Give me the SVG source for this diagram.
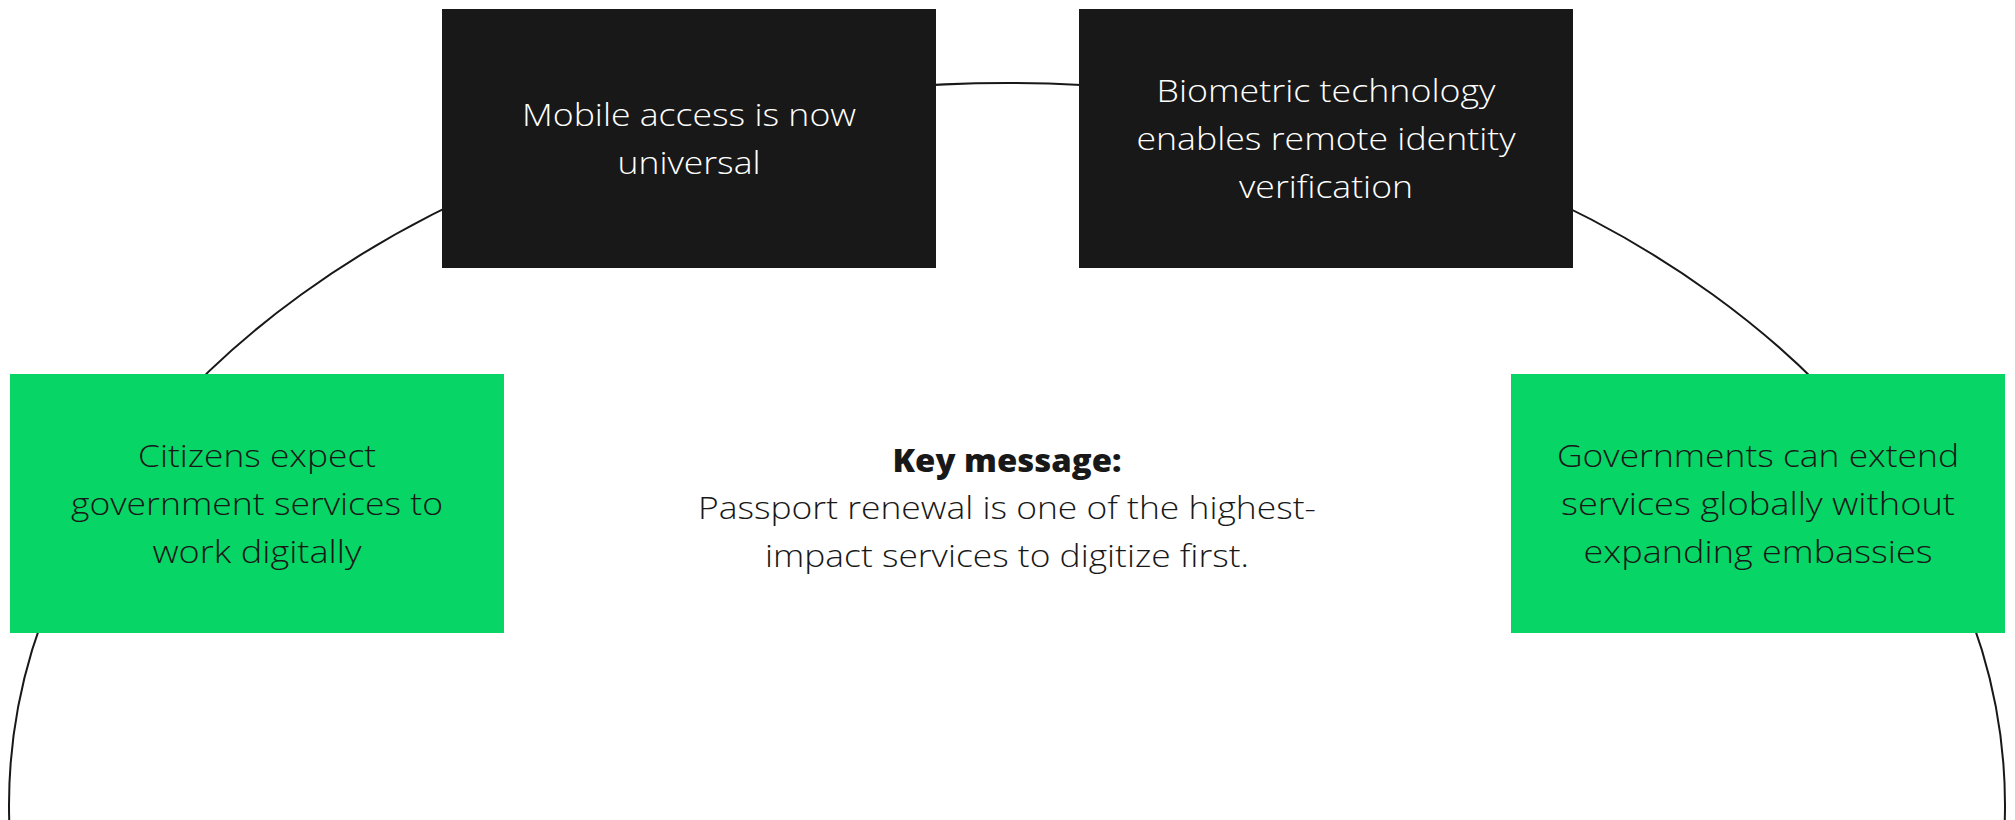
<svg xmlns="http://www.w3.org/2000/svg" width="2015" height="820" viewBox="0 0 2015 820">
<style>
.dark{fill:#181818}
.green{fill:#07D565}
.t{font-family:"Open Sans","Noto Sans","Liberation Sans",sans-serif;font-size:32px;font-weight:300;text-anchor:middle}
.tw{fill:#ffffff}
.tk{fill:#181818}
.b{font-weight:800}
.ring{fill:none;stroke:#181818;stroke-width:2}
</style>
<rect width="2015" height="820" fill="#ffffff"/>
<g id="connectors">
<ellipse class="ring" cx="1007" cy="805" rx="998" ry="722"/>
</g>
<g id="node-mobile">
<rect class="dark" x="442" y="9" width="494" height="259"/>
<text class="t tw" x="689" y="126" textLength="334" lengthAdjust="spacingAndGlyphs">Mobile access is now</text>
<text class="t tw" x="689" y="174" textLength="143" lengthAdjust="spacingAndGlyphs">universal</text>
</g>
<g id="node-biometric">
<rect class="dark" x="1079" y="9" width="494" height="259"/>
<text class="t tw" x="1326" y="102" textLength="339" lengthAdjust="spacingAndGlyphs">Biometric technology</text>
<text class="t tw" x="1326" y="150" textLength="379" lengthAdjust="spacingAndGlyphs">enables remote identity</text>
<text class="t tw" x="1326" y="198" textLength="174" lengthAdjust="spacingAndGlyphs">verification</text>
</g>
<g id="node-citizens">
<rect class="green" x="10" y="374" width="494" height="259"/>
<text class="t tk" x="257" y="467" textLength="238" lengthAdjust="spacingAndGlyphs">Citizens expect</text>
<text class="t tk" x="257" y="515" textLength="372" lengthAdjust="spacingAndGlyphs">government services to</text>
<text class="t tk" x="257" y="563" textLength="209" lengthAdjust="spacingAndGlyphs">work digitally</text>
</g>
<g id="node-governments">
<rect class="green" x="1511" y="374" width="494" height="259"/>
<text class="t tk" x="1758" y="467" textLength="402" lengthAdjust="spacingAndGlyphs">Governments can extend</text>
<text class="t tk" x="1758" y="515" textLength="394" lengthAdjust="spacingAndGlyphs">services globally without</text>
<text class="t tk" x="1758" y="563" textLength="349" lengthAdjust="spacingAndGlyphs">expanding embassies</text>
</g>
<g id="node-key-message">
<text class="t tk b" x="1007" y="472" textLength="229" lengthAdjust="spacingAndGlyphs">Key message:</text>
<text class="t tk" x="1007" y="519" textLength="618" lengthAdjust="spacingAndGlyphs">Passport renewal is one of the highest-</text>
<text class="t tk" x="1007" y="567" textLength="484" lengthAdjust="spacingAndGlyphs">impact services to digitize first.</text>
</g>
</svg>
